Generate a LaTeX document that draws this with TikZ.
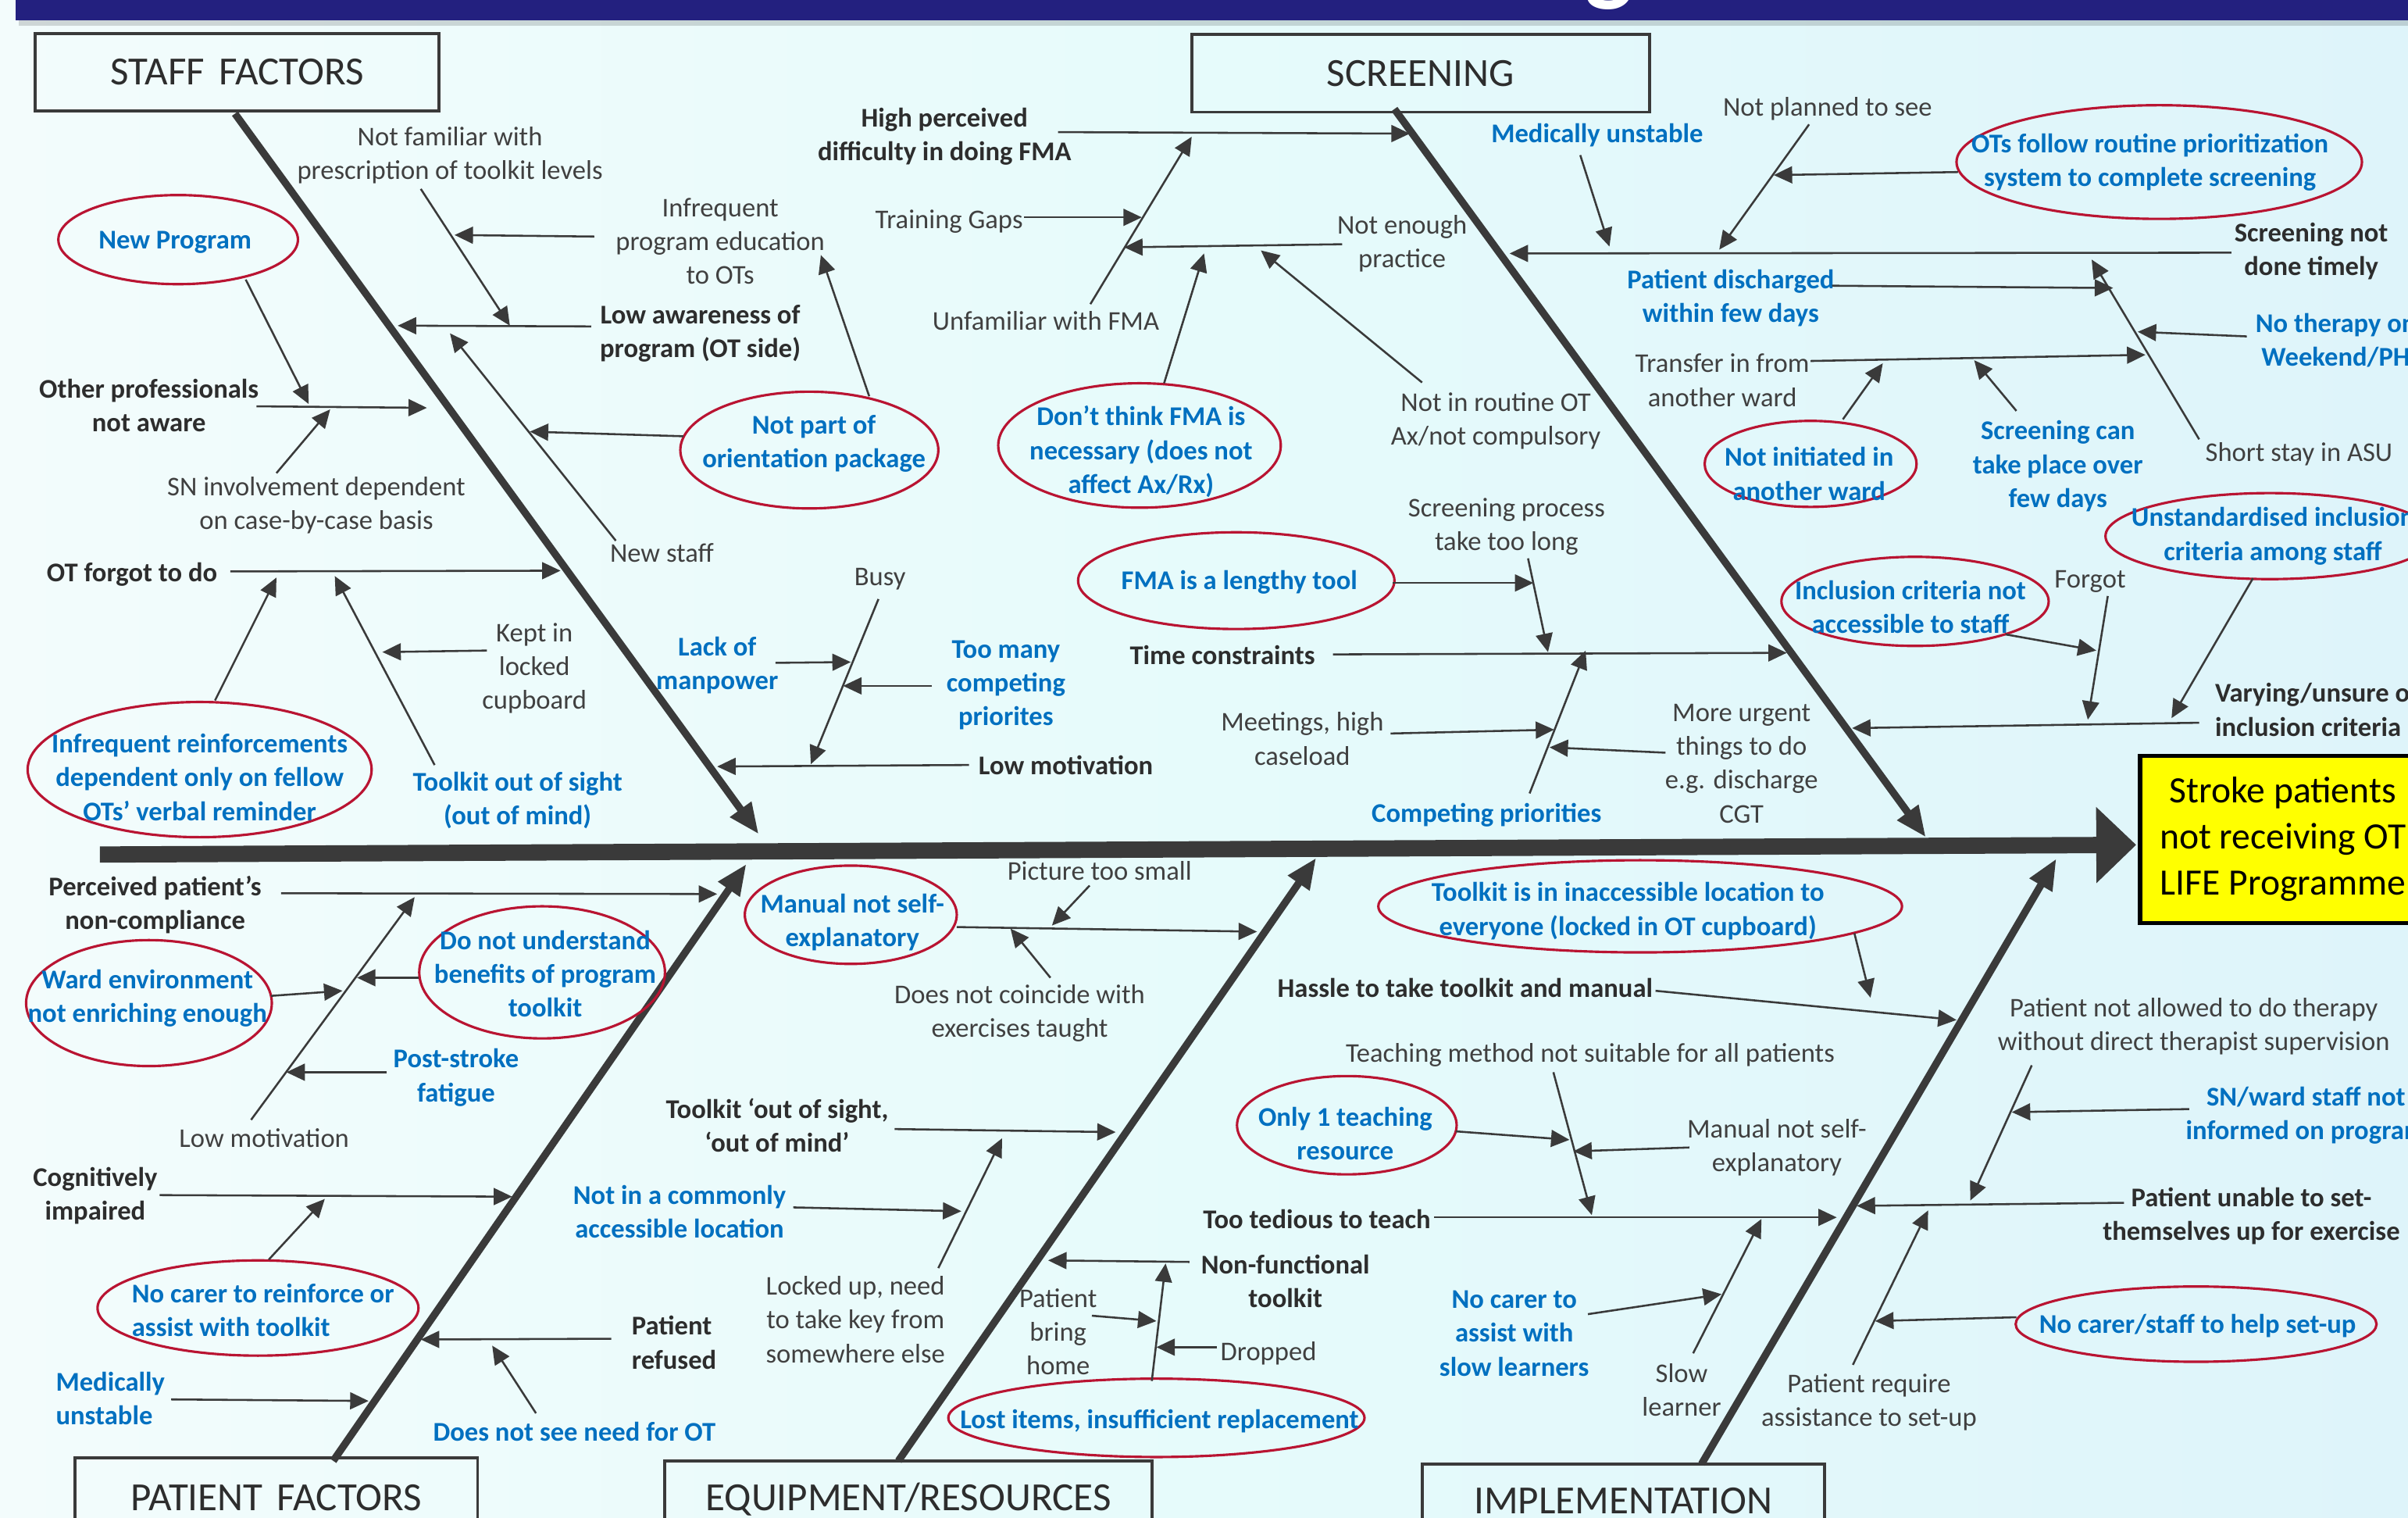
\documentclass[tikz,border=0pt]{standalone}
\usepackage{fontspec}
\setmainfont{Carlito}
\usetikzlibrary{arrows.meta,shapes.geometric}
\definecolor{ln}{RGB}{58,58,58}
\definecolor{tg}{RGB}{64,64,64}
\definecolor{tb}{RGB}{45,45,45}
\definecolor{blu}{RGB}{0,112,192}
\definecolor{ovr}{RGB}{185,20,50}
\definecolor{navy}{RGB}{35,32,127}
\definecolor{bgl}{RGB}{243,252,252}
\definecolor{bgm}{RGB}{230,251,251}
\definecolor{bgr}{RGB}{222,244,250}
\definecolor{yel}{RGB}{255,255,0}
\tikzset{
 txt/.style={font=\fontsize{8.8}{11}\selectfont, text=tg, align=center, inner sep=0pt},
 btxt/.style={txt, text=tb, font=\fontsize{8.8}{11}\selectfont\bfseries},
 bltxt/.style={txt, text=blu, font=\fontsize{8.8}{11}\selectfont\bfseries},
 arr/.style={draw=ln, line width=0.65pt, -{Triangle[length=6pt,width=5.5pt]}},
 bonearr/.style={draw=ln, line width=2.4pt, -{Triangle[length=10pt,width=8pt]}},
 spinearr/.style={draw=ln, line width=5.3pt, -{Triangle[length=13pt,width=24pt]}},
 oval/.style={ellipse, draw=ovr, line width=0.8pt, inner sep=0pt, outer sep=0pt},
 catbox/.style={draw=ln, line width=1pt, inner sep=0pt, font=\fontsize{13}{15}\selectfont, text=tb},
 effectbox/.style={draw=black, line width=1.4pt, fill=yel, inner sep=0pt, align=center, font=\fontsize{12.1}{15}\selectfont, text=black},
}
\begin{document}
\begin{tikzpicture}[x=0.5pt,y=-0.5pt]
\useasboundingbox (0,0) rectangle (1568,988);
\clip (0,0) rectangle (1568,988);
\shade[left color=bgl, right color=bgr, middle color=bgm] (0,0) rectangle (1568,988);
% title bar
\fill[navy] (10,-5) rectangle (1580,13.3);
\fill[black, opacity=0.15] (12,13.3) rectangle (1580,17);
\node[text=white, font=\fontsize{33}{33}\selectfont\bfseries, anchor=base, inner sep=0pt] (ttlg) at (1048,-5) {g};

% category boxes
\node[catbox, minimum width=131.5pt, minimum height=25pt] (staffbox) at (154.5,47) {STAFF\hspace{0.13em} FACTORS};
\node[catbox, minimum width=149pt, minimum height=25.25pt] (scrbox) at (925,47.75) {SCREENING};
\node[catbox, minimum width=131pt, minimum height=26pt] (patbox) at (180,975) {PATIENT\hspace{0.13em} FACTORS};
\node[catbox, minimum width=158.5pt, minimum height=25pt] (eqbox) at (591.5,976) {EQUIPMENT/RESOURCES};
\node[catbox, minimum width=131pt, minimum height=24pt] (imbox) at (1057,977) {IMPLEMENTATION};
\node[effectbox, minimum width=93pt, minimum height=54.5pt] (effect) at (1486.5,546.5) {Stroke patients\\not receiving OT\\LIFE Programme};

% spine and bones
\coordinate (spA) at (65,556.3); \coordinate (spB) at (1391,550);
\draw[spinearr] (spA) -- (spB);
\coordinate (sfA) at (153,74); \coordinate (sfB) at (494,543);
\coordinate (scA) at (908,71); \coordinate (scB) at (1254,545);
\coordinate (pfA) at (217,951); \coordinate (pfB) at (486,562.5);
\coordinate (eqA) at (585,951); \coordinate (eqB) at (857,558.5);
\coordinate (imA) at (1108,953); \coordinate (imB) at (1339,559);
\draw[bonearr] (sfA) -- (sfB);
\draw[bonearr] (scA) -- (scB);
\draw[bonearr] (pfA) -- (pfB);
\draw[bonearr] (eqA) -- (eqB);
\draw[bonearr] (imA) -- (imB);

% ovals
\node[oval, minimum width=84pt, minimum height=38pt] (e5) at (527,293) {};
\node[oval, minimum width=78pt, minimum height=29pt] (e6) at (116,156) {};
\node[oval, minimum width=112pt, minimum height=44pt] (e10) at (130,501) {};
\node[oval, minimum width=92pt, minimum height=40.5pt] (e21) at (742,290) {};
\node[oval, minimum width=132pt, minimum height=37pt] (e25) at (1406,105.5) {};
\node[oval, minimum width=69pt, minimum height=28pt] (e31) at (1179,302) {};
\node[oval, minimum width=107pt, minimum height=28pt] (e33) at (1478,349) {};
\node[oval, minimum width=87pt, minimum height=29pt] (e35) at (1247,391.5) {};
\node[oval, minimum width=103pt, minimum height=31.5pt] (e37) at (805,378) {};
\node[oval, minimum width=80pt, minimum height=43pt] (e44) at (353,633) {};
\node[oval, minimum width=80pt, minimum height=41pt] (e45) at (97,653) {};
\node[oval, minimum width=104.5pt, minimum height=31pt] (e49) at (168,851.5) {};
\node[oval, minimum width=69pt, minimum height=32pt] (e53) at (554,595.5) {};
\node[oval, minimum width=135.5pt, minimum height=25.5pt] (e61) at (753,923) {};
\node[oval, minimum width=170.5pt, minimum height=30pt] (e63) at (1068,590) {};
\node[oval, minimum width=71.5pt, minimum height=32pt] (e66) at (877,732.5) {};
\node[oval, minimum width=117.5pt, minimum height=24.5pt] (e75) at (1430,862) {};

% ---------- STAFF FACTORS texts ----------
\node[txt] (t1) at (293,101) {Not familiar with\\prescription of toolkit levels};
\node[txt] (t2) at (469,157) {Infrequent\\program education\\to OTs};
\node[btxt] (t3) at (456,217) {Low awareness of\\program (OT side)};
\node[txt] (t4) at (431,360) {New staff};
\node[bltxt] (e5t) at (530,289) {Not part of\\orientation package};
\node[bltxt] (e6t) at (114,158) {New Program};
\node[btxt] (t7) at (97,264) {Other professionals\\not aware};
\node[txt] (t8) at (206,329) {SN involvement dependent\\on case-by-case basis};
\node[btxt] (t9) at (86,374) {OT forgot to do};
\node[bltxt] (e10t) at (130,506) {Infrequent reinforcements\\dependent only on fellow\\OTs’ verbal reminder};
\node[bltxt] (t11) at (337,521) {Toolkit out of sight\\(out of mind)};
\node[txt] (t12) at (348,435) {Kept in\\locked\\cupboard};
\node[bltxt] (t13) at (467,433) {Lack of\\manpower};
\node[txt] (t14) at (573,377) {Busy};
\node[bltxt] (t15) at (655,446) {Too many\\competing\\priorites};
\node[btxt] (t16) at (694,498) {Low motivation};

% ---------- SCREENING texts ----------
\node[btxt] (t17) at (615,89) {High perceived\\difficulty in doing FMA};
\node[txt] (t18) at (618,144) {Training Gaps};
\node[txt] (t19) at (681,209) {Unfamiliar with FMA};
\node[txt] (t20) at (913,158.5) {Not enough\\practice};
\node[bltxt] (e21t) at (743,294) {Don’t think FMA is\\necessary (does not\\affect Ax/Rx)};
\node[txt] (t22) at (974,274) {Not in routine OT\\Ax/not compulsory};
\node[bltxt] (t23) at (1040,88) {Medically unstable};
\node[txt] (t24) at (1190,71) {Not planned to see};
\node[bltxt] (e25t) at (1400,105.5) {OTs follow routine prioritization\\system to complete screening};
\node[btxt] (t26) at (1505,163.5) {Screening not\\done timely};
\node[bltxt] (t27) at (1127,194) {Patient discharged\\within few days};
\node[txt] (t28) at (1497,295.5) {Short stay in ASU};
\node[bltxt] (t29) at (1521,221.5) {No therapy on\\Weekend/PH};
\node[txt] (t30) at (1121.5,247.5) {Transfer in from\\another ward};
\node[bltxt] (e31t) at (1178,308.5) {Not initiated in\\another ward};
\node[bltxt] (t32) at (1340,303.5) {Screening can\\take place over\\few days};
\node[bltxt] (e33t) at (1480,349) {Unstandardised inclusion\\criteria among staff};
\node[btxt, align=left, anchor=west] (t34) at (1442,462) {Varying/unsure of\\inclusion criteria};
\node[bltxt] (e35t) at (1244,395) {Inclusion criteria not\\accessible to staff};
\node[txt] (t36) at (1361,378.5) {Forgot};
\node[bltxt] (e37t) at (807,379) {FMA is a lengthy tool};
\node[txt] (t38) at (981,343) {Screening process\\take too long};
\node[btxt] (t39) at (796,426.5) {Time constraints};
\node[txt] (t40) at (848,481) {Meetings, high\\caseload};
\node[bltxt] (t41) at (968,530.5) {Competing priorities};
\node[txt] (t42) at (1134,497) {More urgent\\things to do\\e.g. discharge\\CGT};

% ---------- PATIENT FACTORS texts ----------
\node[btxt] (t43) at (101,589) {Perceived patient’s\\non-compliance};
\node[bltxt] (e44t) at (355,634) {Do not understand\\benefits of program\\toolkit};
\node[bltxt] (e45t) at (96,650) {Ward environment\\not enriching enough};
\node[txt] (t46) at (172,741) {Low motivation};
\node[bltxt] (t47) at (297,701.5) {Post-stroke\\fatigue};
\node[btxt] (t48) at (62,778.5) {Cognitively\\impaired};
\node[bltxt, align=left, anchor=west] (e49t) at (85.5,853) {No carer to reinforce or\\assist with toolkit};
\node[btxt, align=left, anchor=west] (t50) at (411,874) {Patient\\refused};
\node[bltxt] (t51) at (374,932) {Does not see need for OT};
\node[bltxt, align=left, anchor=west] (t52) at (36,910.5) {Medically\\unstable};

% ---------- EQUIPMENT texts ----------
\node[bltxt] (e53t) at (555,600.5) {Manual not self-\\explanatory};
\node[txt] (t54) at (716,567) {Picture too small};
\node[txt] (t55) at (664,659.5) {Does not coincide with\\exercises taught};
\node[btxt] (t56) at (506,732.5) {Toolkit ‘out of sight,\\‘out of mind’};
\node[bltxt] (t57) at (442.5,789) {Not in a commonly\\accessible location};
\node[txt] (t58) at (557,859) {Locked up, need\\to take key from\\somewhere else};
\node[btxt] (t59) at (837,834) {Non-functional\\toolkit};
\node[txt] (t60) at (689,867) {Patient\\bring\\home};
\node[bltxt] (e61t) at (755,925) {Lost items, insufficient replacement};
\node[txt] (t62) at (826,881) {Dropped};

% ---------- IMPLEMENTATION texts ----------
\node[bltxt] (e63t) at (1060,593) {Toolkit is in inaccessible location to\\everyone (locked in OT cupboard)};
\node[btxt] (t64) at (954,643) {Hassle to take toolkit and manual};
\node[txt] (t65) at (1035.5,687) {Teaching method not suitable for all patients};
\node[bltxt] (e66t) at (876,738) {Only 1 teaching\\resource};
\node[txt] (t67) at (1157,747) {Manual not self-\\explanatory};
\node[btxt] (t68) at (857.5,793.5) {Too tedious to teach};
\node[bltxt] (t69) at (986,868) {No carer to\\assist with\\slow learners};
\node[txt] (t70) at (1095,905) {Slow\\learner};
\node[txt] (t71) at (1428.5,668) {Patient not allowed to do therapy\\without direct therapist supervision};
\node[bltxt] (t72) at (1501.5,726) {SN/ward staff not\\informed on program};
\node[btxt] (t73) at (1466,791.5) {Patient unable to set-\\themselves up for exercise};
\node[txt] (t74) at (1217,913) {Patient require\\assistance to set-up};
\node[bltxt] (e75t) at (1431,863) {No carer/staff to help set-up};

% ---------- connector end points ----------
\coordinate (a1) at (274,123); \coordinate (b1) at (332,212);
\coordinate (a2) at (387,154); \coordinate (b2) at (296,153);
\coordinate (a3) at (385,212.5); \coordinate (b3) at (259,212);
\coordinate (a4) at (401,352); \coordinate (b4) at (293,217);
\coordinate (a5) at (566,258); \coordinate (b5) at (534.5,166);
\coordinate (a5x) at (445,284); \coordinate (b5x) at (345,281);
\coordinate (a6) at (160,182); \coordinate (b6) at (201,263);
\coordinate (a7) at (167,264.5); \coordinate (b7) at (278,265.5);
\coordinate (a8) at (180,308); \coordinate (b8) at (215,266.5);
\coordinate (a9) at (150,372); \coordinate (b9) at (365,371.5);
\coordinate (a10) at (140,456); \coordinate (b10) at (180,376);
\coordinate (a11) at (283,498); \coordinate (b11) at (218,375);
\coordinate (a12) at (317,423.5); \coordinate (b12) at (249,424.5);
\coordinate (a13) at (505,431.5); \coordinate (b13) at (554,431);
\coordinate (a14) at (572,390); \coordinate (b14) at (528,497.5);
\coordinate (a15) at (607,446.5); \coordinate (b15) at (549,446.5);
\coordinate (a16) at (631,498); \coordinate (b16) at (467,499);
\coordinate (a17) at (689,86); \coordinate (b17) at (918,87);
\coordinate (a18) at (667,141.5); \coordinate (b18) at (743.5,141.5);
\coordinate (a19) at (710,198); \coordinate (b19) at (776,89);
\coordinate (a20) at (874,159); \coordinate (b20) at (732,161);
\coordinate (a21) at (758,249.5); \coordinate (b21) at (784,165);
\coordinate (a22) at (926,249); \coordinate (b22) at (821,163);
\coordinate (a23) at (1029,101); \coordinate (b23) at (1048,160.5);
\coordinate (a24) at (1178,81); \coordinate (b24) at (1119.5,162.5);
\coordinate (a25) at (1275,112); \coordinate (b25) at (1155,114);
\coordinate (a26) at (1453,164.5); \coordinate (b26) at (983,165);
\coordinate (a27) at (1193,186); \coordinate (b27) at (1376,187.5);
\coordinate (a28) at (1432,286); \coordinate (b28) at (1362,169);
\coordinate (a29) at (1463,219); \coordinate (b29) at (1392,216);
\coordinate (a30) at (1179,235); \coordinate (b30) at (1397,231);
\coordinate (a31) at (1200,273); \coordinate (b31) at (1226,236.5);
\coordinate (a32) at (1313,267.5); \coordinate (b32) at (1285.5,234.5);
\coordinate (a33) at (1467,376.5); \coordinate (b33) at (1414,467.5);
\coordinate (a34) at (1432,470.5); \coordinate (b34) at (1206,474);
\coordinate (a35) at (1306,413); \coordinate (b35) at (1365,423.5);
\coordinate (a36) at (1372.5,388); \coordinate (b36) at (1359.5,468.5);
\coordinate (a37) at (907,379.5); \coordinate (b37) at (998.5,379.5);
\coordinate (a38) at (995,363.5); \coordinate (b38) at (1008,424.5);
\coordinate (a39) at (868,426); \coordinate (b39) at (1163.5,425);
\coordinate (a40) at (905.5,477.5); \coordinate (b40) at (1012,475);
\coordinate (a41) at (996,516.5); \coordinate (b41) at (1032.5,423.5);
\coordinate (a42) at (1084.5,490); \coordinate (b42) at (1009,486.5);
\coordinate (a43) at (183,581.5); \coordinate (b43) at (467,582);
\coordinate (a44) at (272.5,636.5); \coordinate (b44) at (232.5,636.5);
\coordinate (a45) at (176.5,648.3); \coordinate (b45) at (223,645);
\coordinate (a46) at (163.5,729); \coordinate (b46) at (270,584);
\coordinate (a47) at (252,698); \coordinate (b47) at (186.5,698);
\coordinate (a48) at (104,778); \coordinate (b48) at (333.5,779);
\coordinate (a49) at (175,820); \coordinate (b49) at (211.5,780.5);
\coordinate (a50) at (398,871.5); \coordinate (b50) at (274,872);
\coordinate (a51) at (349,920); \coordinate (b51) at (320.5,876);
\coordinate (a52) at (111.5,911); \coordinate (b52) at (240,912);
\coordinate (a53) at (623,603.5); \coordinate (b53) at (818.5,606.5);
\coordinate (a54) at (709.5,576.5); \coordinate (b54) at (685,602.5);
\coordinate (a55) at (684,636.5); \coordinate (b55) at (658,604.5);
\coordinate (a56) at (582.5,735); \coordinate (b56) at (726.5,737);
\coordinate (a57) at (516.5,786); \coordinate (b57) at (626,788.5);
\coordinate (a58) at (611,825.5); \coordinate (b58) at (652.5,741);
\coordinate (a59) at (774.5,821.5); \coordinate (b59) at (682.5,820.5);
\coordinate (a60) at (711,856.5); \coordinate (b60) at (753,860);
\coordinate (a61) at (750,899); \coordinate (b61) at (759,822.5);
\coordinate (a62) at (792.5,877); \coordinate (b62) at (753,877);
\coordinate (a63) at (1207.5,607.5); \coordinate (b63) at (1218,649.5);
\coordinate (a64) at (1078,645); \coordinate (b64) at (1274,664);
\coordinate (a65) at (1011.5,698); \coordinate (b65) at (1036.5,791);
\coordinate (a66) at (948,736.5); \coordinate (b66) at (1022,742);
\coordinate (a67) at (1100,747); \coordinate (b67) at (1024.5,749.5);
\coordinate (a68) at (934,792.5); \coordinate (b68) at (1196,792.5);
\coordinate (a69) at (1034,855.5); \coordinate (b69) at (1121,842.5);
\coordinate (a70) at (1102.5,881); \coordinate (b70) at (1147,793.5);
\coordinate (a71) at (1323,693.5); \coordinate (b71) at (1283,781.5);
\coordinate (a72) at (1425.5,722); \coordinate (b72) at (1310,724);
\coordinate (a73) at (1383,783); \coordinate (b73) at (1209,785);
\coordinate (a74) at (1206.5,888.5); \coordinate (b74) at (1255.5,788);
\coordinate (a75) at (1313,857.5); \coordinate (b75) at (1221,860);

% ---------- connectors ----------
\foreach \i in {1,2,3,4,5,5x,6,7,8,9,10,11,12,13,14,15,16,17,18,19,20,21,22,23,24,25,26,27,28,29,30,31,32,33,34,35,36,37,38,39,40,41,42,43,44,45,46,47,48,49,50,51,52,53,54,55,56,57,58,59,60,61,62,63,64,65,66,67,68,69,70,71,72,73,74,75}
  \draw[arr] (a\i) -- (b\i);
\end{tikzpicture}
\end{document}
